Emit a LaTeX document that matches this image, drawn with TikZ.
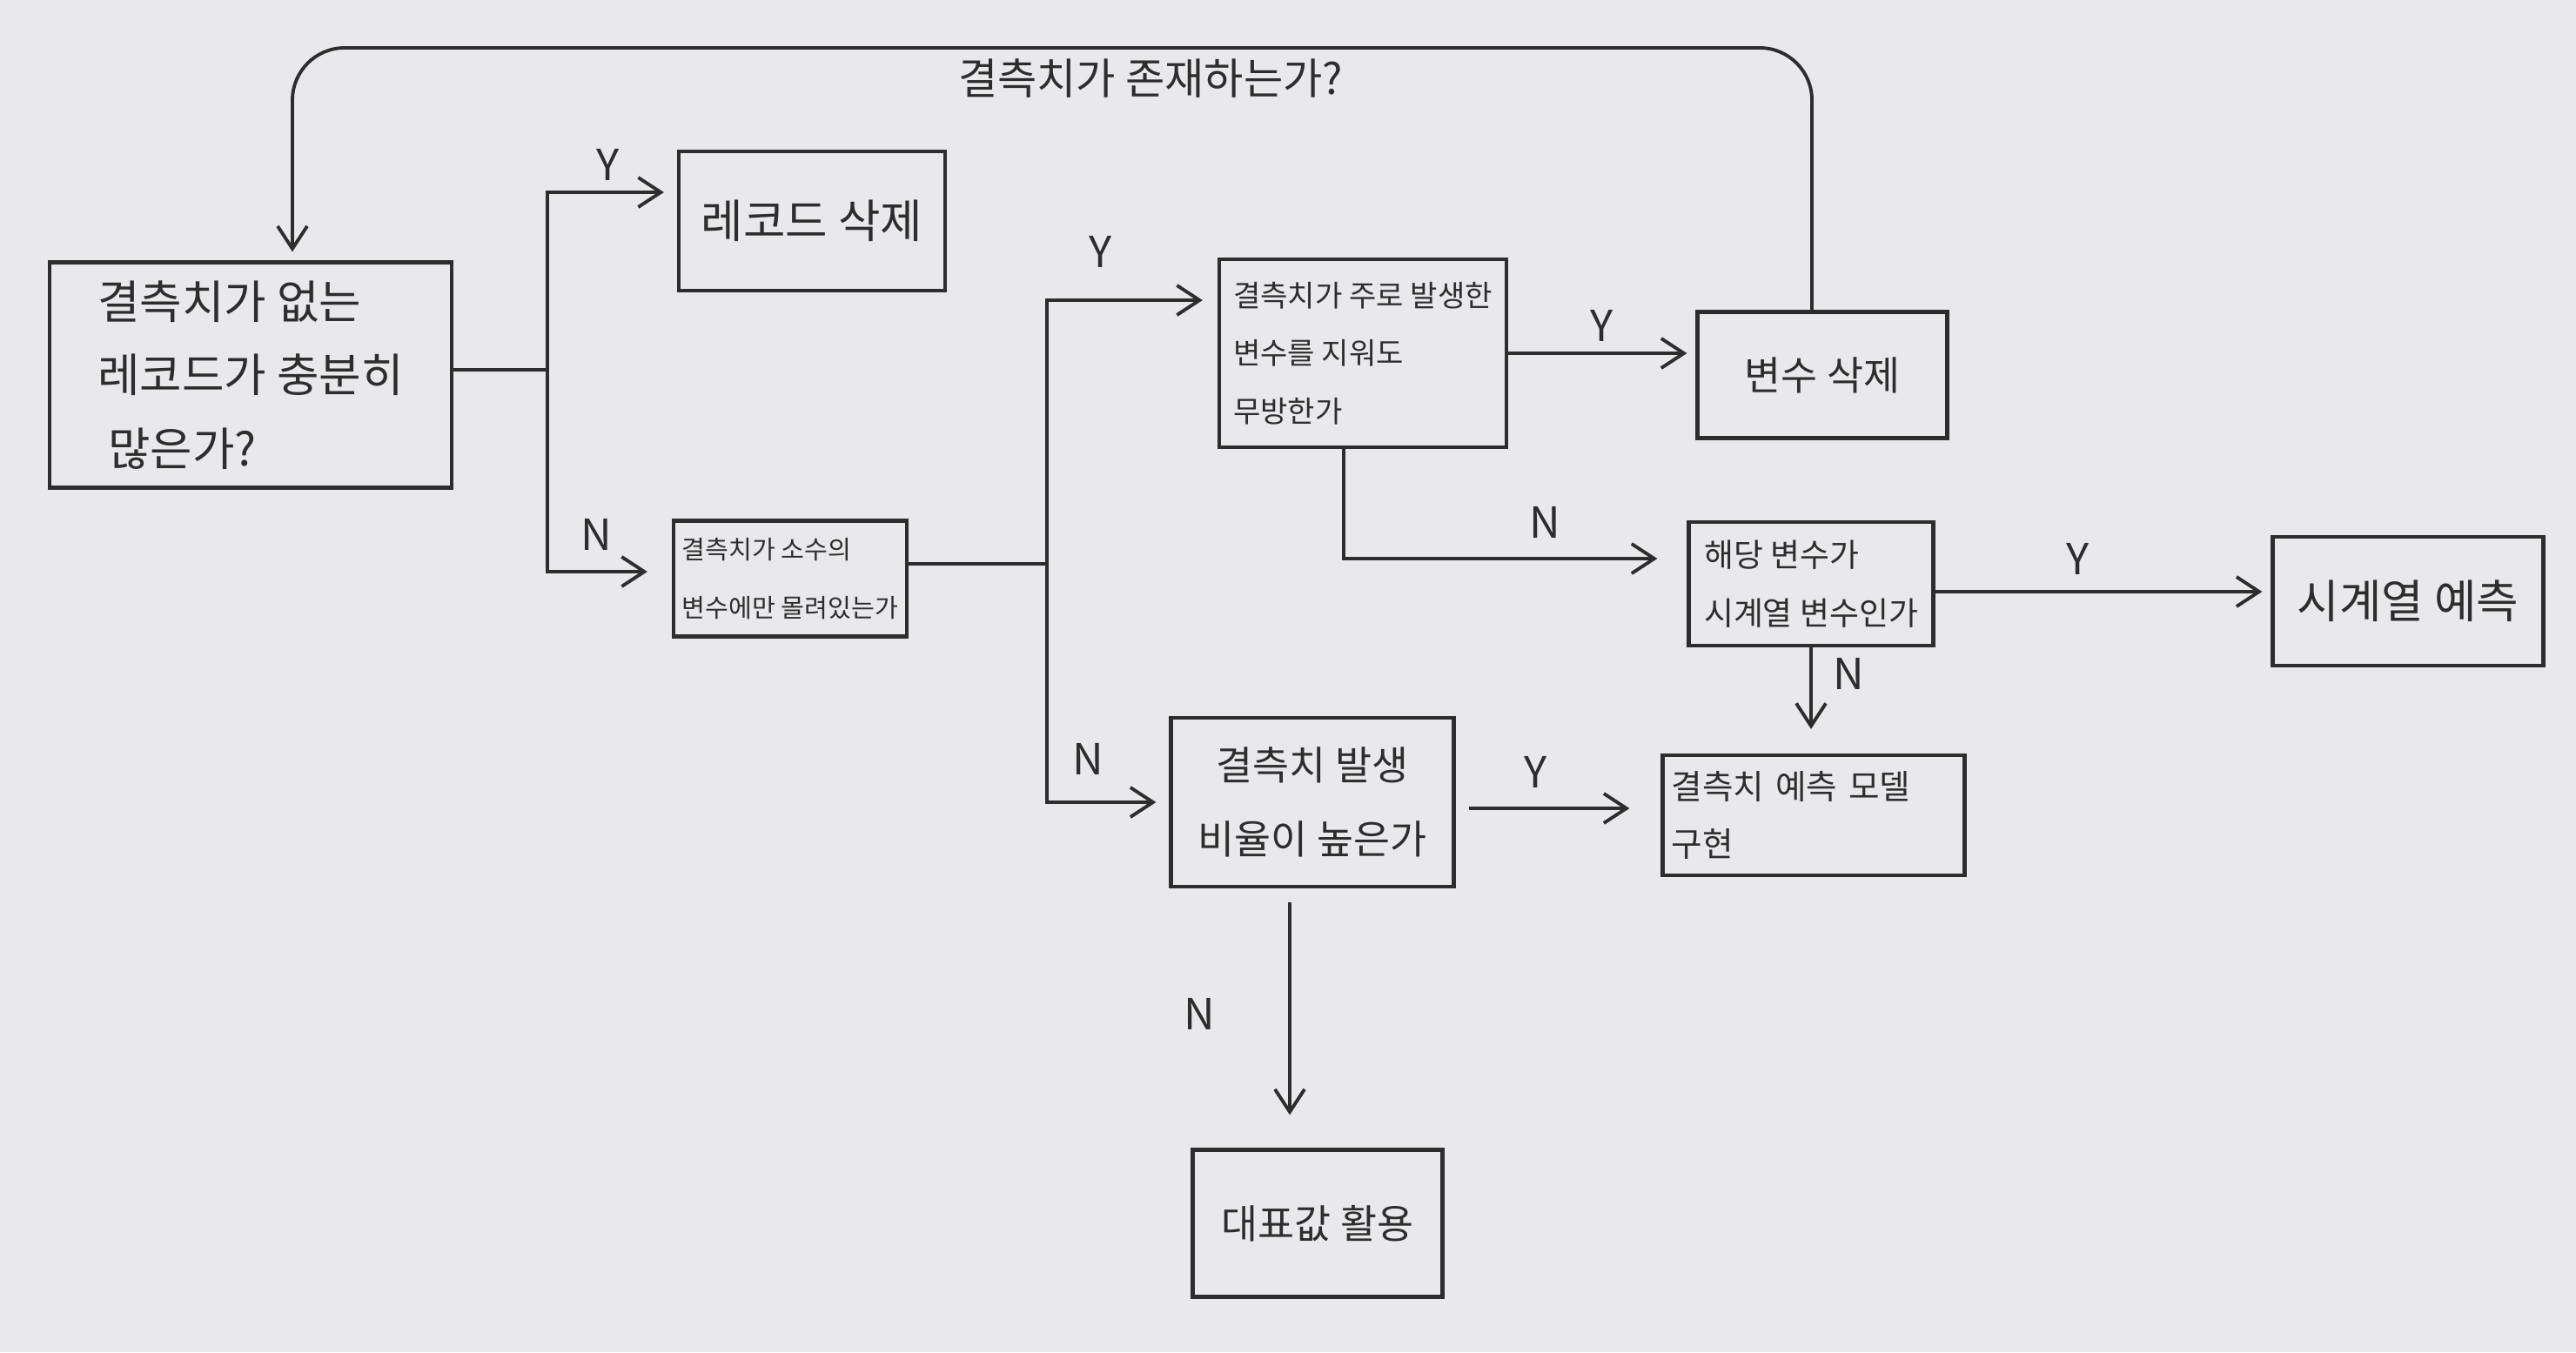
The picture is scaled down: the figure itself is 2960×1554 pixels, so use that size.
\documentclass[tikz,border=0pt]{standalone}
\usepackage{fontspec}
\newfontfamily\kr{Noto Sans CJK KR}
\usetikzlibrary{arrows.meta, calc}
\definecolor{paper}{RGB}{233,233,236}
\definecolor{pen}{RGB}{45,45,45}

\begin{document}
\begin{tikzpicture}[x=0.1mm, y=-0.1mm,
  box/.style={draw=pen, line width=1.2pt, text=pen, inner sep=1mm},
  arr/.style={draw=pen, line width=1.1pt, -{Straight Barb[length=2.6mm, width=3.4mm]}},
  link/.style={draw=pen, line width=1.1pt},
  yn/.style={text=pen, font=\kr\fontsize{14}{16}\selectfont}]
  \fill[paper] (0,0) rectangle (2960,1554);
  \useasboundingbox (0,0) rectangle (2960,1554);

  % boxes
  \node[box, minimum width=46.2mm, minimum height=25.9mm, align=left,
        font=\kr\fontsize{15}{24}\selectfont] (enough) at (288,431)
        {결측치가 없는\\레코드가 충분히\\\ 많은가?};
  \node[box, minimum width=30.6mm, minimum height=16mm,
        font=\kr\fontsize{15}{18}\selectfont] (delrec) at (933,254) {레코드 삭제};
  \node[box, minimum width=26.8mm, minimum height=13.3mm, inner sep=0.3mm, align=left,
        font=\kr\fontsize{8.3}{19}\selectfont] (fewvar) at (908,665)
        {결측치가 소수의\\변수에만 몰려있는가};
  \node[box, minimum width=33mm, minimum height=21.6mm, inner sep=0.4mm, align=left,
        font=\kr\fontsize{9.7}{19}\selectfont] (dropvar) at (1566,406)
        {결측치가 주로 발생한\\변수를 지워도\\무방한가};
  \node[box, minimum width=28.7mm, minimum height=14.5mm,
        font=\kr\fontsize{13}{16}\selectfont] (delvar) at (2094,431) {변수 삭제};
  \node[box, minimum width=28.1mm, minimum height=14.2mm, inner sep=0.5mm, align=left,
        font=\kr\fontsize{10.5}{19}\selectfont] (timevar) at (2081,671)
        {해당 변수가\\시계열 변수인가};
  \node[box, minimum width=31.1mm, minimum height=14.8mm,
        font=\kr\fontsize{15}{18}\selectfont] (tsfc) at (2767,691) {시계열 예측};
  \node[box, minimum width=32.5mm, minimum height=19.4mm, align=center,
        font=\kr\fontsize{13}{24}\selectfont] (highrate) at (1508,922)
        {결측치 발생\\비율이 높은가};
  \node[box, minimum height=13.8mm, text width=32.7mm, align=left,
        font=\kr\fontsize{11}{19}\selectfont] (model) at (2084,937)
        {결측치 예측 모델\\구현};
  \node[box, minimum width=28.7mm, minimum height=16.9mm,
        font=\kr\fontsize{13}{16}\selectfont] (repval) at (1514,1406) {대표값 활용};

  % first split
  \coordinate (split1) at (629,425);
  \draw[link] ([yshift=0.6mm]enough.east) -- (split1);
  \draw[arr, shorten >=1.5mm] (split1) |- ([yshift=3.3mm]delrec.west);
  \draw[arr, shorten >=2.8mm] (split1) |- ([yshift=0.8mm]fewvar.west);
  \node[yn] (y1) at (699,189) {Y};
  \node[yn] (n1) at (685,614) {N};

  % second split
  \coordinate (split2) at (1203,648);
  \draw[link] ([yshift=1.7mm]fewvar.east) -- (split2);
  \draw[arr, shorten >=1.7mm] (split2) |- ([yshift=6.1mm]dropvar.west);
  \draw[arr, shorten >=1.5mm] (split2) |- (highrate.west);
  \node[yn] (y2) at (1265,289) {Y};
  \node[yn] (n2) at (1250,872) {N};

  % drop the variable?
  \draw[arr, shorten >=1mm] (dropvar.east) -- (dropvar.east -| delvar.west);
  \node[yn] (y3) at (1841,374) {Y};
  \draw[arr, shorten >=3.4mm] ([xshift=-2.2mm]dropvar.south) |- ([yshift=2.9mm]timevar.west);
  \node[yn] (n3) at (1775,600) {N};

  % time series?
  \draw[arr, shorten >=1mm] ([yshift=-0.9mm]timevar.east) -- ([yshift=-0.9mm]timevar.east -| tsfc.west);
  \node[yn] (y4) at (2388,642) {Y};
  \draw[arr, shorten >=2.8mm] (timevar.south) -- (timevar.south |- model.north);
  \node[yn] (n4) at (2124,774) {N};

  % high rate?
  \draw[arr, shorten <=1.5mm, shorten >=3.6mm] ([yshift=-0.7mm]highrate.east) -- ([yshift=-0.7mm]highrate.east -| model.west);
  \node[yn] (y5) at (1765,887) {Y};
  \draw[arr, shorten <=1.6mm, shorten >=3.8mm] ([xshift=-2.6mm]highrate.south) -- ([xshift=-2.6mm]highrate.south |- repval.north);
  \node[yn] (n5) at (1378,1165) {N};

  % loop back to the start
  \coordinate (topleft) at (336,55);
  \draw[arr, rounded corners=6mm, shorten >=1mm] ([xshift=-1.2mm]delvar.north) |- (topleft) -- ([xshift=4.8mm]enough.north);
  \node[text=pen, font=\kr\fontsize{14}{16}\selectfont] (ask) at (1322,90) {결측치가 존재하는가?};
\end{tikzpicture}
\end{document}
